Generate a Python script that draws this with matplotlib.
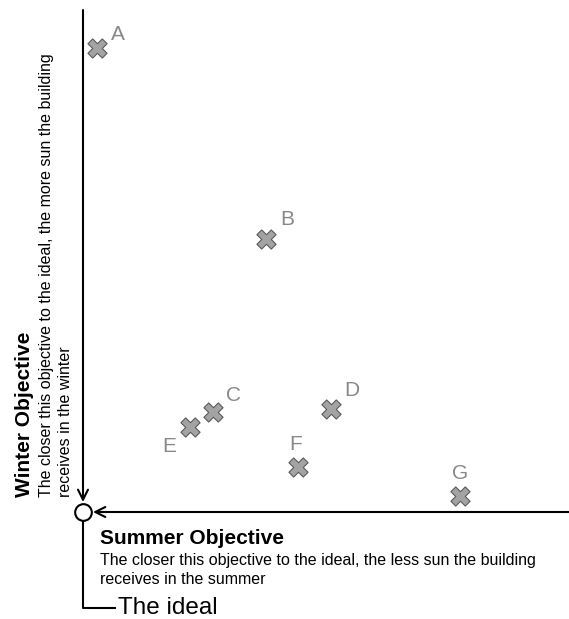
import matplotlib.pyplot as plt
import numpy as np

plt.rcParams['font.family'] = ['Liberation Sans', 'DejaVu Sans']

# solutions: summer objective (x) and winter objective (y), distance from the ideal
names = ['A', 'B', 'C', 'D', 'E', 'F', 'G']
summer = [14, 183, 130, 248, 107, 215, 377]
winter = [464, 273, 100, 103, 85, 45, 16]
# label offsets in points relative to each marker
label_dx = [15, 15, 15, 15, -15, -2, 0]
label_dy = [10, 14, 12, 13, -14, 16, 16]

fig = plt.figure(figsize=(5.69, 6.19), dpi=100)
ax = fig.add_axes([0, 0, 1, 1])
ax.set_xlim(-83, 486)
ax.set_ylim(-107, 512)
ax.axis('off')

# axes arrows
ax.annotate('', xy=(0, 10), xytext=(0, 502),
            arrowprops=dict(arrowstyle='->', lw=1.5, color='black',
                            mutation_scale=18, shrinkA=0, shrinkB=0))
ax.annotate('', xy=(10, 0), xytext=(486, 0),
            arrowprops=dict(arrowstyle='->', lw=1.5, color='black',
                            mutation_scale=18, shrinkA=0, shrinkB=0))

# the ideal
ax.plot([0, 0, 32], [-8, -96, -96], color='black', lw=1.5)
ax.plot([0], [0], marker='o', markersize=12, markerfacecolor='white',
        markeredgecolor='black', markeredgewidth=1.5, zorder=5)
ax.text(35, -96, 'The ideal', fontsize=17.5, va='center', ha='left')

# points
ax.scatter(summer, winter, marker='X', s=190, c='#a3a3a3',
           edgecolors='#5a5a5a', linewidths=0.8, zorder=4)
for n, x, y, dx, dy in zip(names, summer, winter, label_dx, label_dy):
    ax.annotate(n, (x, y), xytext=(dx, dy), textcoords='offset points',
                fontsize=15, color='#888888', ha='center', va='center')

# summer objective text
ax.text(17, -26, 'Summer Objective', fontsize=15, fontweight='bold',
        va='center', ha='left')
ax.text(17, -58, 'The closer this objective to the ideal, the less sun the building\n'
        'receives in the summer', fontsize=11.5, va='center', ha='left',
        linespacing=1.32)

# winter objective text
ax.text(-59, 15, 'Winter Objective', fontsize=15, fontweight='bold',
        rotation=90, va='bottom', ha='center')
ax.text(-27, 15, 'The closer this objective to the ideal, the more sun the building\n'
        'receives in the winter', fontsize=11.5, rotation=90,
        va='bottom', ha='center', multialignment='left', linespacing=1.32)

plt.savefig('out.png', dpi=100)
